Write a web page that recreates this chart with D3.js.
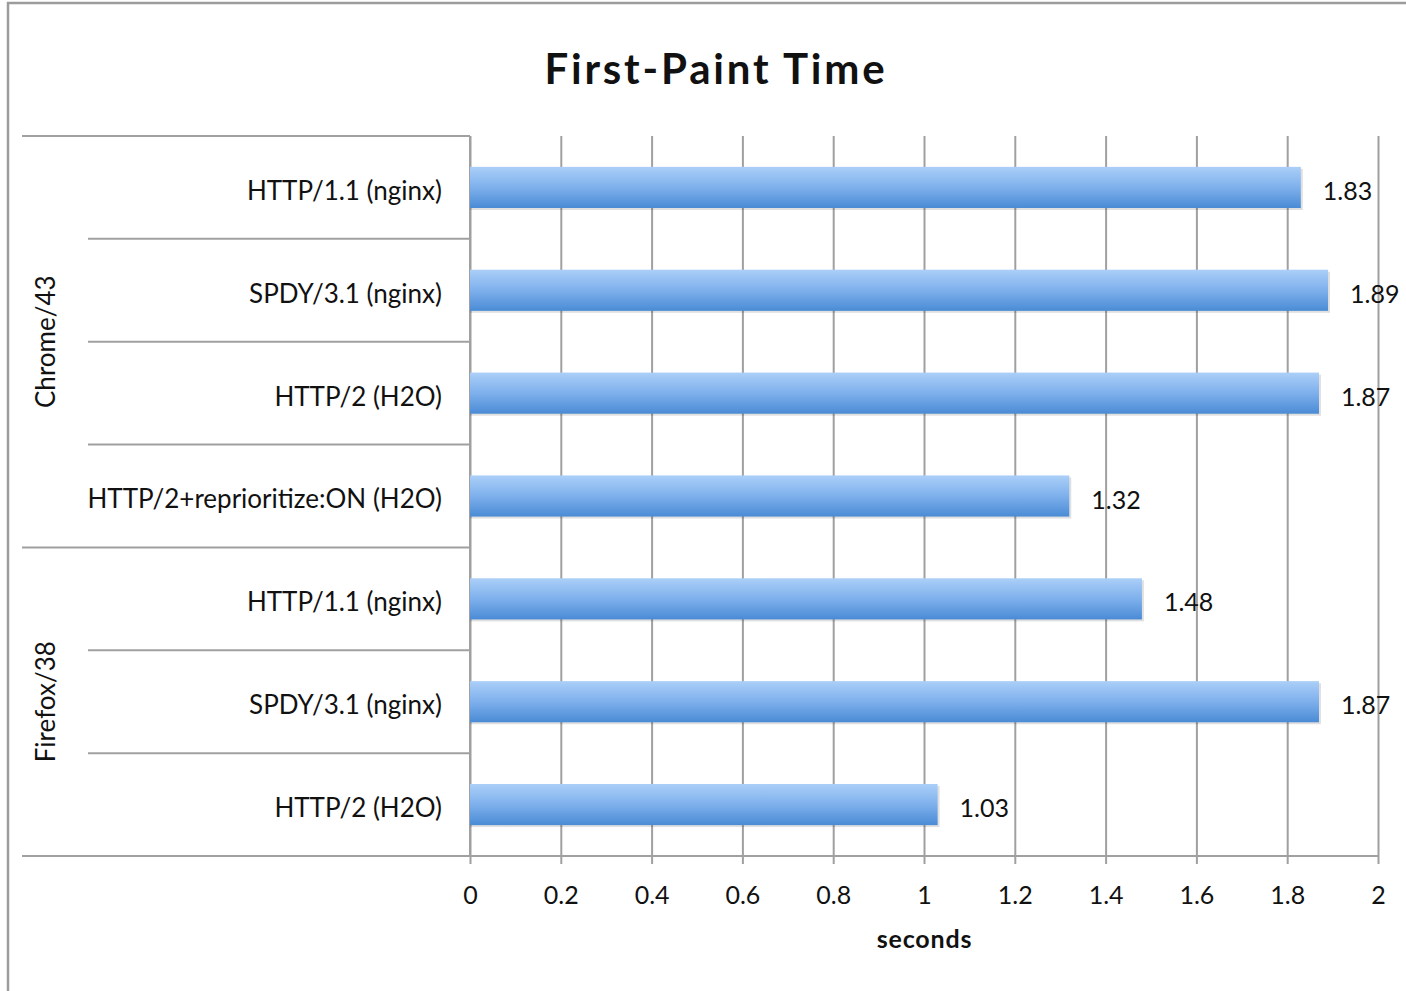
<!DOCTYPE html>
<html>
<head>
<meta charset="utf-8">
<script src="https://cdn.jsdelivr.net/npm/d3@7"></script>
<style>
  body { margin: 0; background: #fff; }
  text { font-family: Lato, "Open Sans", sans-serif; fill: #111; }
</style>
</head>
<body>
<svg id="chart" width="1406" height="991"></svg>
<script>
// Données du graphique
const browsers = ['Chrome/43', 'Chrome/43', 'Chrome/43', 'Chrome/43', 'Firefox/38', 'Firefox/38', 'Firefox/38']
const protocols = ['HTTP/1.1 (nginx)', 'SPDY/3.1 (nginx)', 'HTTP/2 (H2O)', 'HTTP/2+reprioritize:ON (H2O)', 'HTTP/1.1 (nginx)', 'SPDY/3.1 (nginx)', 'HTTP/2 (H2O)']
const seconds = [1.83, 1.89, 1.87, 1.32, 1.48, 1.87, 1.03]
const xTicks = [0, 0.2, 0.4, 0.6, 0.8, 1, 1.2, 1.4, 1.6, 1.8, 2]
const title = 'First-Paint Time'
const xTitle = 'seconds'

const svg = d3.select('#chart')
const plotLeft = 470
const plotRight = 1378
const plotTop = 136
const plotBottom = 856
const gridColor = '#a0a0a0'

// Cadre extérieur
svg.append('path')
  .attr('d', 'M8,991 V3 H1406')
  .attr('fill', 'none')
  .attr('stroke', '#9c9c9c')
  .attr('stroke-width', 2.5)

// Titre (espacement des lettres pour approcher la largeur de Calibri)
svg.append('text')
  .attr('x', 716)
  .attr('y', 84)
  .attr('text-anchor', 'middle')
  .style('font-size', '42px')
  .style('font-weight', 'bold')
  .style('letter-spacing', '2.8px')
  .text(title)

const xScale = d3.scaleLinear().domain([0, 2]).range([plotLeft, plotRight])
const yScale = d3.scaleBand()
  .domain(d3.range(seconds.length))
  .range([plotTop, plotBottom])
  .paddingInner(0.6)
  .paddingOuter(0.3)

// Axe X avec lignes de grille
const xAxis = svg.append('g')
  .attr('transform', `translate(0,${plotBottom})`)
  .call(d3.axisBottom(xScale).tickValues(xTicks).tickSize(8).tickPadding(0).tickFormat(d3.format('~g')))

xAxis.select('.domain').remove()
xAxis.selectAll('.tick line')
  .attr('y1', -(plotBottom - plotTop))
  .attr('stroke', gridColor)
  .attr('stroke-width', 2)
xAxis.selectAll('.tick text')
  .attr('y', 48)
  .attr('dy', 0)
  .attr('fill', '#111')
  .style('font-size', '25px')
  .style('font-family', 'Lato, "Open Sans", sans-serif')

// Ligne de base de l'axe X (prolongée sous les étiquettes)
svg.append('line')
  .attr('x1', 22).attr('x2', plotRight)
  .attr('y1', plotBottom).attr('y2', plotBottom)
  .attr('stroke', gridColor)
  .attr('stroke-width', 2)

// Axe vertical
svg.append('line')
  .attr('x1', plotLeft).attr('x2', plotLeft)
  .attr('y1', plotTop).attr('y2', plotBottom)
  .attr('stroke', gridColor)
  .attr('stroke-width', 2)

// Séparateurs de catégories et de groupes
const step = yScale.step()
d3.range(seconds.length + 1).forEach(i => {
  const isGroupEdge = i === 0 || i === seconds.length || browsers[i] !== browsers[i - 1]
  svg.append('line')
    .attr('x1', isGroupEdge ? 22 : 88)
    .attr('x2', plotLeft)
    .attr('y1', plotTop + i * step)
    .attr('y2', plotTop + i * step)
    .attr('stroke', gridColor)
    .attr('stroke-width', 2)
})

// Étiquettes des groupes (navigateurs)
const groupNames = Array.from(new Set(browsers))
groupNames.forEach(name => {
  const first = browsers.indexOf(name)
  const last = browsers.lastIndexOf(name)
  const cy = plotTop + (first + last + 1) / 2 * step
  svg.append('text')
    .attr('transform', `translate(55,${cy}) rotate(-90)`)
    .attr('text-anchor', 'middle')
    .style('font-size', '26px')
    .text(name)
})

// Étiquettes des catégories
svg.selectAll('.cat-label')
  .data(protocols)
  .join('text')
  .attr('class', 'cat-label')
  .attr('x', 442)
  .attr('y', (d, i) => yScale(i) + yScale.bandwidth() / 2)
  .attr('dy', '0.48em')
  .attr('text-anchor', 'end')
  .style('font-size', '26px')
  .text(d => d)

// Dégradé des barres
const defs = svg.append('defs')
const grad = defs.append('linearGradient')
  .attr('id', 'barGrad')
  .attr('x1', 0).attr('y1', 0).attr('x2', 0).attr('y2', 1)
grad.append('stop').attr('offset', '0%').attr('stop-color', '#abcff8')
grad.append('stop').attr('offset', '50%').attr('stop-color', '#7eb0ec')
grad.append('stop').attr('offset', '100%').attr('stop-color', '#4a8bd5')

// Ombres des barres
svg.selectAll('.bar-shadow')
  .data(seconds)
  .join('rect')
  .attr('class', 'bar-shadow')
  .attr('x', xScale(0))
  .attr('y', (d, i) => yScale(i) + 2)
  .attr('width', d => xScale(d) - xScale(0) + 2)
  .attr('height', yScale.bandwidth())
  .attr('fill', '#000')
  .attr('opacity', 0.12)

// Barres
svg.selectAll('.bar')
  .data(seconds)
  .join('rect')
  .attr('class', 'bar')
  .attr('x', xScale(0))
  .attr('y', (d, i) => yScale(i))
  .attr('width', d => xScale(d) - xScale(0))
  .attr('height', yScale.bandwidth())
  .attr('fill', 'url(#barGrad)')

// Valeurs
svg.selectAll('.value-label')
  .data(seconds)
  .join('text')
  .attr('class', 'value-label')
  .attr('x', d => xScale(d) + 22)
  .attr('y', (d, i) => yScale(i) + yScale.bandwidth() / 2)
  .attr('dy', '0.5em')
  .style('font-size', '25px')
  .text(d => d3.format('.2f')(d))

// Titre de l'axe X
svg.append('text')
  .attr('x', (plotLeft + plotRight) / 2 + 0.5)
  .attr('y', 948)
  .attr('text-anchor', 'middle')
  .style('font-size', '25px')
  .style('font-weight', 'bold')
  .style('letter-spacing', '0.8px')
  .text(xTitle)
</script>
</body>
</html>
